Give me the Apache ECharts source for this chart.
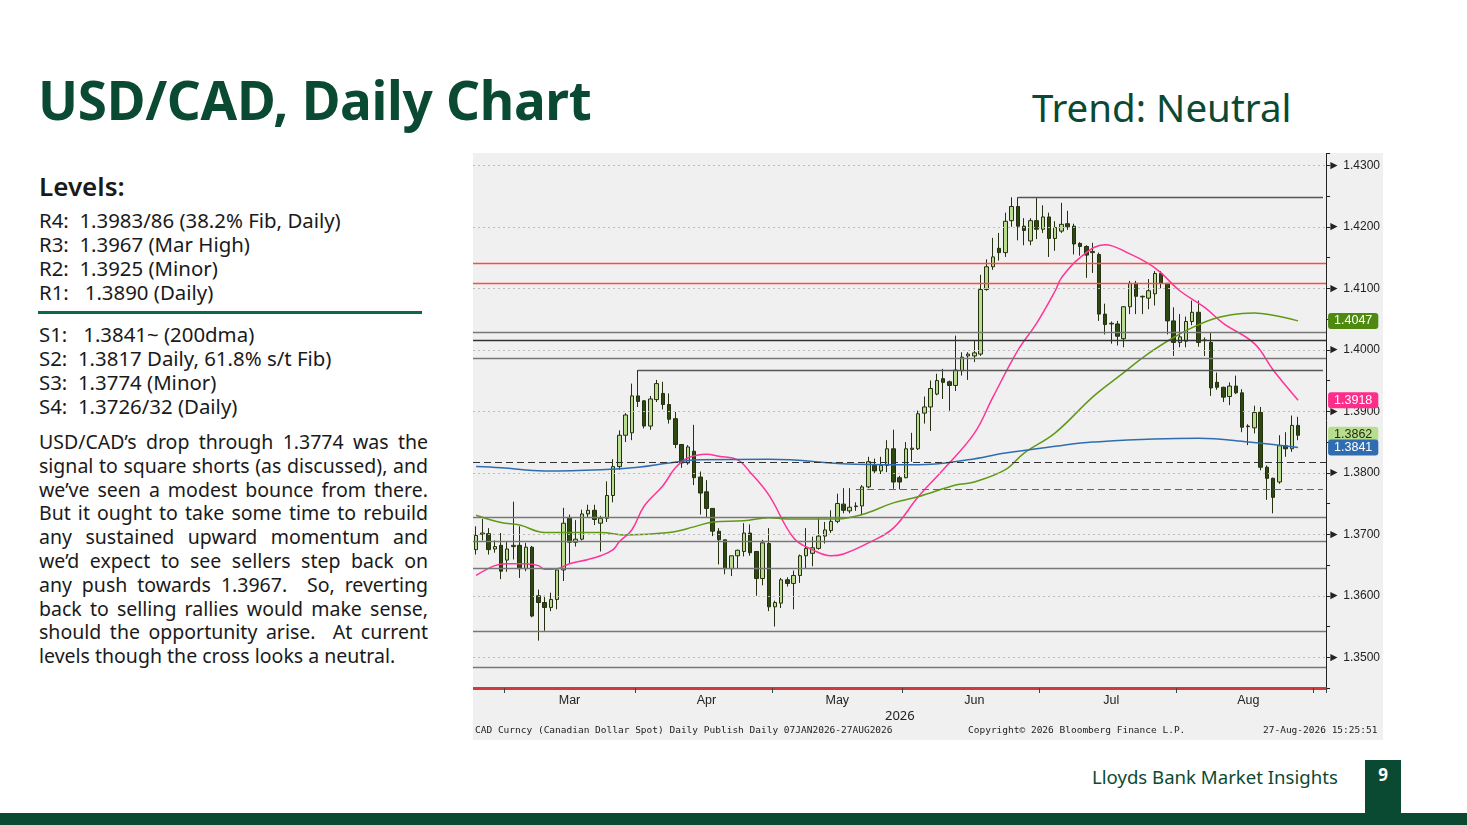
<!DOCTYPE html>
<html><head><meta charset="utf-8">
<script src="https://cdn.jsdelivr.net/npm/echarts@6/dist/echarts.min.js"></script>
<style>
body{margin:0;width:1467px;height:825px;background:#fff;position:relative;overflow:hidden;font-family:"Noto Sans",sans-serif;color:#1a1a1a}
.abs{position:absolute;white-space:nowrap}
#title{left:38px;top:63px;font-size:53px;font-weight:700;color:#0b4a32;letter-spacing:-0.3px}
#trend{left:1032px;top:81px;font-size:38.5px;color:#0b4a32}
#levels{left:39px;top:168px;font-size:26px;font-weight:600}
.lv{left:39px;font-size:20.4px}
#rule{position:absolute;left:38px;top:311px;width:384px;height:3px;background:#0b6b45}
#para{position:absolute;left:39px;top:430px;width:389px;font-size:19.5px;line-height:23.8px;text-align:justify}
#panel{position:absolute;left:473px;top:153px;width:910px;height:587px;background:#f0f0f0}
#chart{position:absolute;left:473px;top:153px;width:910px;height:587px}
.mono{font-family:"DejaVu Sans Mono",monospace;font-size:9.5px;color:#222}
#footer{left:1092px;top:764px;font-size:18.6px;color:#0b4a32}
#pg{position:absolute;left:1365px;top:760px;width:36px;height:53px;background:#0b4a32;color:#fff;font-weight:700;font-size:17px;text-align:center;line-height:30px}
#bar{position:absolute;left:0;top:813px;width:1467px;height:12px;background:#0b4a32}
</style></head><body>
<div class="abs" id="title">USD/CAD, Daily Chart</div>
<div class="abs" id="trend">Trend: Neutral</div>
<div class="abs" id="levels">Levels:</div>
<div class="abs lv" style="top:206px">R4:&nbsp; 1.3983/86 (38.2% Fib, Daily)</div>
<div class="abs lv" style="top:230px">R3:&nbsp; 1.3967 (Mar High)</div>
<div class="abs lv" style="top:254px">R2:&nbsp; 1.3925 (Minor)</div>
<div class="abs lv" style="top:278px">R1:&nbsp;&nbsp; 1.3890 (Daily)</div>
<div id="rule"></div>
<div class="abs lv" style="top:320px">S1:&nbsp;&nbsp; 1.3841~ (200dma)</div>
<div class="abs lv" style="top:344px">S2:&nbsp; 1.3817 Daily, 61.8% s/t Fib)</div>
<div class="abs lv" style="top:368px">S3:&nbsp; 1.3774 (Minor)</div>
<div class="abs lv" style="top:392px">S4:&nbsp; 1.3726/32 (Daily)</div>
<div id="para">USD/CAD’s drop through 1.3774 was the signal to square shorts (as discussed), and we’ve seen a modest bounce from there. But it ought to take some time to rebuild any sustained upward momentum and we’d expect to see sellers step back on any push towards 1.3967.&nbsp; So, reverting back to selling rallies would make sense, should the opportunity arise.&nbsp; At current levels though the cross looks a neutral.</div>
<div id="panel"></div>
<div id="chart"></div>
<div class="abs" style="left:885px;top:706px;font-size:13px;color:#222">2026</div>
<div class="abs mono" style="left:475px;top:724px">CAD Curncy (Canadian Dollar Spot) Daily Publish Daily 07JAN2026-27AUG2026</div>
<div class="abs mono" style="left:968px;top:724px">Copyright© 2026 Bloomberg Finance L.P.</div>
<div class="abs mono" style="left:1263px;top:724px">27-Aug-2026 15:25:51</div>
<div class="abs" id="footer">Lloyds Bank Market Insights</div>
<div id="pg">9</div>
<div id="bar"></div>
<script>
// [open, close, low, high]
const candles = [
[1.3675,1.3698,1.3667,1.3713],[1.3700,1.3702,1.3690,1.3725],[1.3701,1.3675,1.3667,1.3710],[1.3676,1.3680,1.3670,1.3690],
[1.3682,1.3640,1.3627,1.3702],[1.3658,1.3676,1.3639,1.3689],[1.3680,1.3682,1.3659,1.3753],[1.3682,1.3644,1.3629,1.3713],
[1.3644,1.3679,1.3640,1.3686],[1.3679,1.3567,1.3565,1.3681],[1.3600,1.3589,1.3527,1.3610],[1.3589,1.3581,1.3543,1.3600],
[1.3581,1.3594,1.3575,1.3605],[1.3594,1.3642,1.3578,1.3642],[1.3642,1.3718,1.3624,1.3743],[1.3726,1.3687,1.3653,1.3732],
[1.3687,1.3692,1.3680,1.3723],[1.3692,1.3733,1.3690,1.3740],[1.3733,1.3739,1.3728,1.3748],[1.3739,1.3724,1.3715,1.3748],
[1.3718,1.3726,1.3672,1.3730],[1.3726,1.3763,1.3720,1.3786],[1.3763,1.3810,1.3752,1.3822],[1.3810,1.3861,1.3805,1.3869],
[1.3861,1.3894,1.3850,1.3897],[1.3865,1.3925,1.3853,1.3945],[1.3925,1.3916,1.3907,1.3967],[1.3917,1.3876,1.3872,1.3918],
[1.3876,1.3920,1.3870,1.3925],[1.3919,1.3945,1.3915,1.3951],[1.3929,1.3911,1.3903,1.3948],[1.3911,1.3887,1.3880,1.3929],
[1.3888,1.3846,1.3840,1.3899],[1.3846,1.3816,1.3808,1.3846],[1.3816,1.3842,1.3813,1.3845],[1.3835,1.3792,1.3780,1.3878],
[1.3793,1.3767,1.3732,1.3802],[1.3769,1.3742,1.3727,1.3788],[1.3742,1.3705,1.3697,1.3742],[1.3705,1.3691,1.3651,1.3710],
[1.3691,1.3644,1.3635,1.3691],[1.3644,1.3665,1.3632,1.3665],[1.3665,1.3674,1.3644,1.3675],[1.3672,1.3702,1.3664,1.3718],
[1.3702,1.3670,1.3665,1.3716],[1.3672,1.3628,1.3600,1.3672],[1.3628,1.3686,1.3617,1.3691],[1.3685,1.3582,1.3575,1.3710],
[1.3582,1.3589,1.3550,1.3592],[1.3588,1.3626,1.3580,1.3629],[1.3626,1.3620,1.3615,1.3630],[1.3620,1.3633,1.3578,1.3641],
[1.3633,1.3665,1.3621,1.3667],[1.3665,1.3677,1.3645,1.3710],[1.3669,1.3678,1.3648,1.3696],[1.3677,1.3697,1.3675,1.3726],
[1.3697,1.3707,1.3685,1.3720],[1.3706,1.3721,1.3702,1.3739],[1.3721,1.3750,1.3718,1.3766],[1.3749,1.3739,1.3734,1.3775],
[1.3738,1.3744,1.3734,1.3775],[1.3745,1.3746,1.3738,1.3752],[1.3746,1.3777,1.3731,1.3780],[1.3777,1.3818,1.3775,1.3826],
[1.3812,1.3803,1.3799,1.3823],[1.3803,1.3812,1.3798,1.3826],[1.3812,1.3839,1.3801,1.3853],[1.3839,1.3785,1.3774,1.3870],
[1.3792,1.3785,1.3773,1.3795],[1.3792,1.3839,1.3791,1.3850],[1.3838,1.3840,1.3818,1.3865],[1.3839,1.3896,1.3837,1.3901],
[1.3897,1.3907,1.3880,1.3924],[1.3907,1.3937,1.3868,1.3950],[1.3928,1.3950,1.3926,1.3961],[1.3953,1.3947,1.3920,1.3969],
[1.3948,1.3942,1.3901,1.3950],[1.3942,1.3967,1.3933,1.4023],[1.3966,1.3988,1.3958,1.3996],[1.3990,1.3993,1.3951,1.3996],
[1.3990,1.3995,1.3980,1.4016],[1.3993,1.4098,1.3990,1.4122],[1.4098,1.4135,1.4096,1.4147],[1.4135,1.4151,1.4130,1.4182],
[1.4165,1.4158,1.4145,1.4190],[1.4158,1.4209,1.4151,1.4223],[1.4210,1.4233,1.4200,1.4248],[1.4233,1.4201,1.4178,1.4248],
[1.4201,1.4194,1.4170,1.4214],[1.4177,1.4210,1.4170,1.4214],[1.4210,1.4196,1.4180,1.4248],[1.4196,1.4216,1.4190,1.4235],
[1.4216,1.4181,1.4151,1.4223],[1.4181,1.4199,1.4161,1.4209],[1.4193,1.4204,1.4190,1.4239],[1.4205,1.4200,1.4195,1.4226],
[1.4201,1.4172,1.4155,1.4205],[1.4173,1.4168,1.4153,1.4175],[1.4168,1.4154,1.4117,1.4170],[1.4158,1.4160,1.4125,1.4174],
[1.4155,1.4058,1.4047,1.4158],[1.4058,1.4041,1.4025,1.4075],[1.4042,1.4043,1.4010,1.4046],[1.4042,1.4022,1.4007,1.4047],
[1.4018,1.4070,1.4004,1.4071],[1.4070,1.4108,1.4058,1.4112],[1.4108,1.4087,1.4058,1.4112],[1.4086,1.4087,1.4058,1.4088],
[1.4084,1.4096,1.4066,1.4115],[1.4091,1.4124,1.4072,1.4128],[1.4124,1.4108,1.4100,1.4128],[1.4108,1.4047,1.4025,1.4108],
[1.4047,1.4012,1.3990,1.4069],[1.4012,1.4021,1.4004,1.4058],[1.4014,1.4046,1.4004,1.4054],[1.4046,1.4061,1.4040,1.4080],
[1.4061,1.4012,1.4005,1.4080],[1.4015,1.4016,1.3990,1.4020],[1.4012,1.3938,1.3925,1.4028],[1.3947,1.3939,1.3935,1.3963],
[1.3939,1.3923,1.3915,1.3940],[1.3924,1.3941,1.3910,1.3947],[1.3941,1.3930,1.3928,1.3958],[1.3930,1.3874,1.3866,1.3936],
[1.3875,1.3876,1.3845,1.3879],[1.3873,1.3898,1.3864,1.3909],[1.3898,1.3809,1.3804,1.3907],[1.3809,1.3791,1.3756,1.3812],
[1.3791,1.3760,1.3734,1.3792],[1.3785,1.3844,1.3782,1.3861],[1.3844,1.3839,1.3826,1.3866],[1.3839,1.3877,1.3834,1.3893],
[1.3877,1.3861,1.3853,1.3891]
];
const padDays = 4;
const monthNames = ['Mar','Apr','May','Jun','Jul','Aug'];
const monthLabelIdx = [15,37,58,80,102,124];
const monthTickIdx = [5,26,48,69,91,113,135];
// moving averages: [day index, value]
const ma20 = [[0,1.3633],[3.2,1.3649],[4.8,1.3652],[8,1.3652],[9.6,1.3649],[10.9,1.3643],[12.8,1.3644],[15.2,1.3652],[17.6,1.3659],[20,1.3665],[21.6,1.3675],[23.2,1.3688],[24.8,1.3707],[27.2,1.3746],[29.6,1.3779],[31.9,1.3808],[34.3,1.3824],[36.7,1.3830],[39.1,1.3827],[41.5,1.3821],[43.9,1.3801],[46.8,1.3764],[51.1,1.3694],[54.3,1.3675],[57.2,1.3665],[59.4,1.3668],[63.4,1.3686],[67.1,1.3710],[71.4,1.3761],[74.6,1.3805],[79.9,1.3864],[83.1,1.3923],[87.4,1.3999],[89.5,1.4043],[92.7,1.4096],[94.2,1.4117],[97.4,1.4150],[101,1.4171],[105,1.4156],[107.5,1.4140],[110.2,1.4125],[113.4,1.4096],[116.6,1.4069],[120.1,1.4043],[124.6,1.4010],[127.8,1.3967],[132,1.3918]];
const ma50 = [[0,1.3731],[4.2,1.3719],[7.3,1.3715],[11.2,1.3703],[14.9,1.3703],[20.1,1.3703],[24,1.3699],[30.8,1.3703],[35.1,1.3712],[37.7,1.3720],[43.1,1.3722],[46.8,1.3727],[50,1.3725],[57.5,1.3725],[62.3,1.3732],[67.1,1.3751],[71.4,1.3761],[76.7,1.3780],[80.4,1.3785],[84.7,1.3805],[88.3,1.3832],[92.7,1.3865],[99,1.3923],[103.4,1.3955],[107.5,1.3994],[111.8,1.4020],[115,1.4036],[119.3,1.4052],[122.5,1.4059],[125.1,1.4060],[127.8,1.4056],[132,1.4047]];
const ma200 = [[0,1.3810],[4.2,1.3808],[11.2,1.3803],[20.1,1.3805],[25.6,1.3809],[30.8,1.3816],[36.1,1.3821],[46.8,1.3822],[60.7,1.3814],[71.4,1.3813],[79.4,1.3821],[84.7,1.3832],[92.7,1.3843],[99,1.3850],[116.1,1.3856],[124.1,1.3850],[132,1.3841]];
const lastClose = 1.3862;
const redLevels = [1.4141,1.4109];
const grayLevels = [1.4028,1.3986,1.3727,1.3688,1.3644,1.3542,1.3484];
const darkLevels = [1.4016];
const dashedLevel = 1.3817;
const gridVals = [1.35,1.36,1.37,1.38,1.39,1.40,1.41,1.42,1.43];
const segLevels = [{from:87,v:1.4248},{from:26,v:1.3967}];
const segDashed = {from:61,v:1.3774};

const cats = [];
for (let i=0;i<candles.length+padDays;i++) cats.push(String(i));
const endIdx = candles.length+padDays-1;

const chart = echarts.init(document.getElementById('chart'));
const tagSeries = (v,bg,fg)=>({type:'line',data:[],silent:true,
  markLine:{silent:true,symbol:'none',precision:4,lineStyle:{color:'rgba(0,0,0,0)',width:0},
    label:{show:true,position:'end',distance:2,formatter:v.toFixed(4),backgroundColor:bg,color:fg,padding:[2,6,1,6],borderRadius:3,fontSize:12.5,fontFamily:'Liberation Sans'},
    data:[{yAxis:v}]}});
const levelSeries = (vals,style)=>({type:'line',data:[],silent:true,color:style.color,
  itemStyle:{color:style.color},lineStyle:{color:style.color},
  markLine:{silent:true,symbol:'none',precision:4,label:{show:false},lineStyle:style,
    data:vals.map(v=>Array.isArray(v)?[{coord:v[0].coord,lineStyle:style},{coord:v[1].coord}]:{yAxis:v,lineStyle:style})}});
const segs = segLevels.map(s=>[{coord:[s.from,s.v]},{coord:[endIdx,s.v]}]);

chart.setOption({
  animation:false,
  grid:{left:0,top:0,width:857,height:535},
  xAxis:{type:'category',data:cats,boundaryGap:true,
    axisLine:{lineStyle:{color:'#d03a3a',width:3}},
    axisTick:{show:true,length:5,lineStyle:{color:'#444'},interval:(i)=>monthTickIdx.includes(i)},
    axisLabel:{interval:(i)=>monthLabelIdx.includes(i),formatter:(v,i)=>{const k=monthLabelIdx.indexOf(i);return k>=0?monthNames[k]:'';},
      color:'#222',fontSize:12.5,margin:6,fontFamily:'Liberation Sans'},
    splitLine:{show:false}},
  yAxis:{type:'value',position:'right',min:1.345,max:1.432,interval:0.005,
    axisLine:{show:true,lineStyle:{color:'#222'}},
    axisTick:{show:true,length:4,lineStyle:{color:'#222'}},
    splitLine:{show:false},
    axisLabel:{color:'#222',fontSize:12,margin:2,fontFamily:'Liberation Sans',
      formatter:(v)=>{const r=Math.round(v*100);return Math.abs(v*100-r)<1e-6?'► '+(r/100).toFixed(4):'';}}},
  series:[
    levelSeries(gridVals,{color:'#bbb',width:1,type:[2,3]}),
    levelSeries(grayLevels,{color:'#777',width:1.3,type:'solid'}),
    levelSeries(darkLevels,{color:'#333',width:1.3,type:'solid'}),
    levelSeries(redLevels,{color:'#ff4a4a',width:1.4,type:'solid'}),
    levelSeries([dashedLevel],{color:'#333',width:1.2,type:[7,4]}),
    levelSeries(segs,{color:'#555',width:1.3,type:'solid'}),
    levelSeries([[{coord:[segDashed.from,segDashed.v]},{coord:[endIdx,segDashed.v]}]],{color:'#666',width:1.2,type:[7,4]}),
    {type:'candlestick',data:candles,barWidth:4,
      itemStyle:{color:'#b9dd8f',color0:'#2c4a10',borderColor:'#24300f',borderColor0:'#24300f',borderWidth:1}},
    {type:'line',data:ma20,smooth:0.4,showSymbol:false,lineStyle:{color:'#ff3399',width:1.5}},
    {type:'line',data:ma50,smooth:0.4,showSymbol:false,lineStyle:{color:'#5e9a14',width:1.5}},
    {type:'line',data:ma200,smooth:0.4,showSymbol:false,lineStyle:{color:'#2f6db0',width:1.5}},
    tagSeries(1.4047,'#4e8a10','#fff'),
    tagSeries(1.3918,'#ff2d8a','#fff'),
    tagSeries(lastClose,'#b9dd8f','#1d2a0a'),
    tagSeries(1.3841,'#2f6db0','#fff')
  ]
});
</script>
</body></html>
